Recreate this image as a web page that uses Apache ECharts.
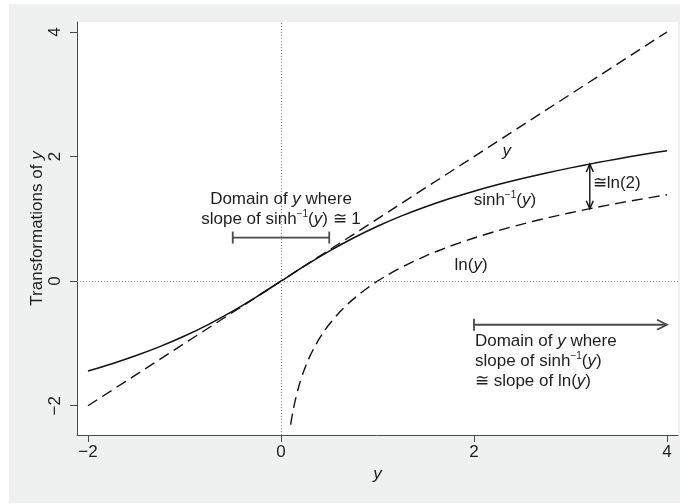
<!DOCTYPE html>
<html><head><meta charset="utf-8">
<script src="https://cdn.jsdelivr.net/npm/echarts@6/dist/echarts.min.js"></script>
<style>
html,body{margin:0;padding:0;background:#fff;width:683px;height:504px;overflow:hidden}
#c{position:absolute;left:9px;top:4px;width:671px;height:499px;}
</style>
</head><body><div id="c"></div>
<script>
// ---- data ----
const xTicks = [-2, 0, 2, 4];
const yTicks = [-2, 0, 2, 4];

// inverse hyperbolic sine curve (solid)
const sinhX = [-2,-1.75,-1.5,-1.25,-1,-0.75,-0.5,-0.25,0,0.25,0.5,0.75,1,1.25,1.5,1.75,2,2.25,2.5,2.75,3,3.25,3.5,3.75,4];
const sinhY = [-1.4436,-1.3259,-1.1948,-1.0476,-0.8814,-0.6931,-0.4812,-0.2475,0,0.2475,0.4812,0.6931,0.8814,1.0476,1.1948,1.3259,1.4436,1.5501,1.6472,1.7363,1.8184,1.8947,1.9657,2.0322,2.0947];

// identity line (dashed)
const identX = [-2, 4];
const identY = [-2, 4];

// natural log curve (dashed)
const lnX = [0.1,0.11,0.125,0.14,0.15,0.175,0.2,0.225,0.25,0.3,0.35,0.4,0.45,0.5,0.6,0.7,0.8,0.9,1,1.1,1.25,1.5,1.75,2,2.25,2.5,2.75,3,3.25,3.5,3.75,4];
const lnY = [-2.3026,-2.2073,-2.0794,-1.9661,-1.8971,-1.7430,-1.6094,-1.4917,-1.3863,-1.2040,-1.0498,-0.9163,-0.7985,-0.6931,-0.5108,-0.3567,-0.2231,-0.1054,0,0.0953,0.2231,0.4055,0.5596,0.6931,0.8109,0.9163,1.0116,1.0986,1.1787,1.2528,1.3218,1.3863];

// annotation segments (data coordinates)
const segX1 = [-0.5, 2, 3.2];
const segY1 = [0.7, -0.7, 1.8799];
const segX2 = [0.5, 4, 3.2];
const segY2 = [0.7, -0.7, 1.1632];
const segStart = ['cap', 'cap', 'arrow'];
const segEnd = ['cap', 'arrow', 'arrow'];

// annotation texts (data coordinates)
const labelText = [
  '{i|y}',
  '{t|sinh}{s|−1}{t|(}{i|y}{t|)}',
  '{t|ln(}{i|y}{t|)}',
  '{t|≅ln(2)}',
  '{t|Domain of }{i|y}{t| where}\n{t|slope of sinh}{s|−1}{t|(}{i|y}{t|) ≅ 1}',
  '{t|Domain of }{i|y}{t| where}\n{t|slope of sinh}{s|−1}{t|(}{i|y}{t|)}\n{t|≅ slope of ln(}{i|y}{t|)}'
];
const labelX = [2.34, 2.32, 1.97, 3.23, 0, 2.01];
const labelY = [2.08, 1.30, 0.26, 1.57, 1.15, -1.285];
const labelAlign = ['center', 'center', 'center', 'left', 'center', 'left'];

// ---- chart ----
const FONT = '"Liberation Sans", Arial, Helvetica, sans-serif';
const FS = 17;
const TXT = '#1e1e1e';
const AXC = '#4a4a4a';
const rich = {
  t: {fontFamily: FONT, fontSize: FS, color: TXT, lineHeight: 20},
  i: {fontFamily: FONT, fontSize: FS, fontStyle: 'italic', color: TXT, lineHeight: 20},
  s: {fontFamily: FONT, fontSize: 10, color: TXT, lineHeight: 12, verticalAlign: 'top'}
};
const zip = (a, b) => a.map((v, k) => [v, b[k]]);
const fmt = v => String(v).replace('-', '−');

const segData = segX1.map((v, k) => [v, segY1[k], segX2[k], segY2[k], k]);
const labData = labelX.map((v, k) => [v, labelY[k], k]);

function endMark(kind, tip, dir, len, half, w, col) {
  const out = [];
  const nx = -dir[1], ny = dir[0];
  if (kind === 'cap') {
    out.push({type: 'line', shape: {x1: tip[0] + nx * half, y1: tip[1] + ny * half, x2: tip[0] - nx * half, y2: tip[1] - ny * half}, style: {stroke: col, lineWidth: w}});
  } else if (kind === 'arrow') {
    const bx = tip[0] - dir[0] * len, by = tip[1] - dir[1] * len;
    out.push({type: 'polyline', shape: {points: [[bx + nx * half, by + ny * half], tip, [bx - nx * half, by - ny * half]]}, style: {stroke: col, lineWidth: w, fill: null}});
  }
  return out;
}

const chart = echarts.init(document.getElementById('c'), null, {width: 671, height: 499});
chart.setOption({
  backgroundColor: '#eff0f0',
  animation: false,
  grid: {left: 68, right: 2, top: 18, bottom: 68, show: true, backgroundColor: '#ffffff', borderWidth: 0},
  xAxis: {
    type: 'value', min: -2.114, max: 4.114,
    name: '{i|y}', nameLocation: 'middle', nameGap: 29, nameMoveOverlap: false,
    nameTextStyle: {rich: rich},
    axisLine: {show: true, onZero: false, lineStyle: {color: AXC, width: 1}},
    axisTick: {show: true, length: 7, customValues: xTicks, lineStyle: {color: AXC}},
    axisLabel: {customValues: xTicks, formatter: fmt, fontFamily: FONT, fontSize: FS, color: TXT, margin: 9},
    splitLine: {show: false}
  },
  yAxis: {
    type: 'value', min: -2.47, max: 4.16,
    name: '{t|Transformations of }{i|y}', nameLocation: 'middle', nameGap: 30, nameRotate: 90, nameMoveOverlap: false,
    nameTextStyle: {rich: rich},
    axisLine: {show: true, onZero: false, lineStyle: {color: AXC, width: 1}},
    axisTick: {show: true, length: 7, customValues: yTicks, lineStyle: {color: AXC}},
    axisLabel: {customValues: yTicks, formatter: fmt, rotate: 90, fontFamily: FONT, fontSize: FS, color: TXT, margin: 13},
    splitLine: {show: false}
  },
  series: [
    {
      type: 'line', data: [], silent: true, z: 1,
      markLine: {
        silent: true, symbol: 'none', label: {show: false},
        lineStyle: {type: [1, 2], color: '#8a8a8a', width: 1},
        data: [{xAxis: 0}, {yAxis: 0}]
      }
    },
    {type: 'line', data: zip(identX, identY), showSymbol: false, silent: true, z: 3,
     lineStyle: {color: '#111', width: 1.4, type: [11, 6]}},
    {type: 'line', data: zip(lnX, lnY), showSymbol: false, silent: true, smooth: 0.2, z: 3,
     lineStyle: {color: '#111', width: 1.4, type: [11, 6]}},
    {type: 'line', data: zip(sinhX, sinhY), showSymbol: false, silent: true, smooth: 0.3, z: 4,
     lineStyle: {color: '#111', width: 1.5}},
    {
      type: 'custom', silent: true, z: 5,
      encode: {x: [0, 2], y: [1, 3]},
      data: segData,
      renderItem: function (params, api) {
        const k = api.value(4);
        const p1 = api.coord([api.value(0), api.value(1)]);
        const p2 = api.coord([api.value(2), api.value(3)]);
        const dx = p2[0] - p1[0], dy = p2[1] - p1[1];
        const L = Math.sqrt(dx * dx + dy * dy) || 1;
        const d = [dx / L, dy / L];
        const vertical = Math.abs(dx) < 1;
        const col = vertical ? '#111' : '#4a4a4a';
        const w = vertical ? 1.4 : 1.8;
        const len = vertical ? 8 : 10;
        const half = vertical ? 3.5 : 5;
        let ch = [{type: 'line', shape: {x1: p1[0], y1: p1[1], x2: p2[0], y2: p2[1]}, style: {stroke: col, lineWidth: w}}];
        ch = ch.concat(endMark(segStart[k], p1, [-d[0], -d[1]], len, segStart[k] === 'cap' ? 6 : half, w, col));
        ch = ch.concat(endMark(segEnd[k], p2, d, len, segEnd[k] === 'cap' ? 6 : half, w, col));
        return {type: 'group', children: ch};
      }
    },
    {
      type: 'custom', silent: true, z: 6,
      encode: {x: 0, y: 1},
      data: labData,
      renderItem: function (params, api) {
        const k = api.value(2);
        const p = api.coord([api.value(0), api.value(1)]);
        return {
          type: 'text', x: p[0], y: p[1],
          style: {text: labelText[k], rich: rich, align: labelAlign[k], verticalAlign: 'middle',
                  fill: TXT, font: FS + 'px ' + FONT}
        };
      }
    }
  ]
});
</script>
</body></html>
